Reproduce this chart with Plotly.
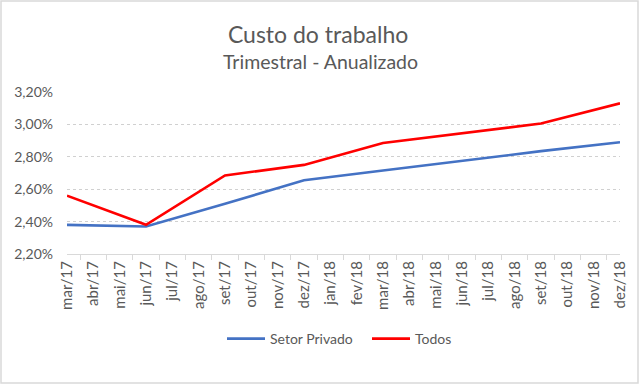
import plotly.graph_objects as go

months = ["mar/17", "abr/17", "mai/17", "jun/17", "jul/17", "ago/17", "set/17", "out/17",
          "nov/17", "dez/17", "jan/18", "fev/18", "mar/18", "abr/18", "mai/18", "jun/18",
          "jul/18", "ago/18", "set/18", "out/18", "nov/18", "dez/18"]
quarters = ["mar/17", "jun/17", "set/17", "dez/17", "mar/18", "jun/18", "set/18", "dez/18"]
setor_privado = [2.38, 2.37, 2.51, 2.655, 2.715, 2.775, 2.835, 2.89]
todos = [2.56, 2.38, 2.685, 2.75, 2.885, 2.945, 3.005, 3.13]
y_ticks = [2.2, 2.4, 2.6, 2.8, 3.0, 3.2]
y_tick_labels = ["2,20%", "2,40%", "2,60%", "2,80%", "3,00%", "3,20%"]

font_family = "Lato, Open Sans, sans-serif"

def expand(vals):
    d = dict(zip(quarters, vals))
    return [d.get(m) for m in months]

fig = go.Figure()
fig.add_trace(go.Scatter(x=months, y=expand(setor_privado), name="Setor Privado", mode="lines",
                         connectgaps=True, line=dict(color="#4472C4", width=2.6)))
fig.add_trace(go.Scatter(x=months, y=expand(todos), name="Todos", mode="lines",
                         connectgaps=True, line=dict(color="#FF0000", width=2.6)))

fig.update_layout(
    width=640, height=385,
    margin=dict(l=67, r=20, t=92, b=131, autoexpand=False),
    paper_bgcolor="white", plot_bgcolor="white",
    font=dict(family=font_family, color="#595959", size=14),
    title=dict(text="Custo do trabalho", x=0.497, xanchor="center", y=1 - 35 / 385, yanchor="middle",
               font=dict(size=23, color="#595959", family=font_family)),
    showlegend=True,
    legend=dict(orientation="h", x=(222 - 67) / 553, xanchor="left", y=(254 - 339) / 162, yanchor="middle",
                font=dict(size=14, color="#595959"), itemwidth=38, tracegroupgap=0,
                entrywidth=92, entrywidthmode="pixels"),
    xaxis=dict(type="category", categoryorder="array", categoryarray=months,
               tickangle=-90, tickfont=dict(size=15, color="#595959"),
               showgrid=False, showline=True, linecolor="#D9D9D9", linewidth=1.2,
               ticks="outside", tickson="boundaries", ticklen=5, tickcolor="#D9D9D9",
               automargin=False),
    yaxis=dict(range=[2.2, 3.2], tickvals=y_ticks, ticktext=y_tick_labels,
               tickfont=dict(size=14, color="#595959"), ticklabelstandoff=13,
               showgrid=True, gridcolor="#D0D0D0", griddash="dot", gridwidth=1.2,
               zeroline=False, showline=False, ticks="", automargin=False),
    annotations=[dict(text="Trimestral - Anualizado", xref="paper", yref="paper", x=(320 - 67) / 553,
                      y=(254 - 61) / 162, xanchor="center", yanchor="middle", showarrow=False,
                      font=dict(size=19.5, color="#595959", family=font_family))],
    shapes=[dict(type="rect", xref="paper", yref="paper", x0=(1 - 67) / 553, x1=(638 - 67) / 553,
                 y0=(254 - 383) / 162, y1=(254 - 1) / 162, line=dict(color="#D9D9D9", width=1.5),
                 fillcolor="rgba(0,0,0,0)", layer="below")],
)

fig.write_html("out.html", config={"displayModeBar": False},
               post_script="document.body.style.margin='0';")
